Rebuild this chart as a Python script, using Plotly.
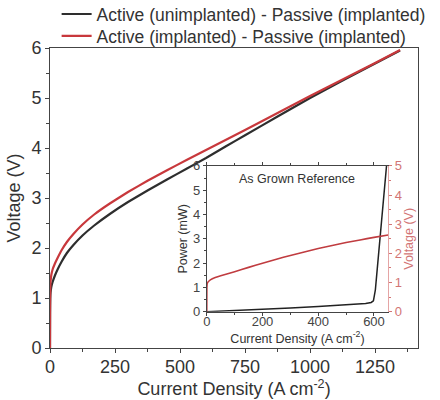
import plotly.graph_objects as go

# Main chart data: current density (A cm^-2) vs voltage (V)
j_unimpl = [0, 0.3, 1, 2, 5, 10, 19, 30, 45, 65, 90, 125, 170, 230, 300, 375, 450, 525, 600, 675, 750, 875, 1000, 1125, 1250, 1346]
v_unimpl = [0, 0.7, 0.98, 1.1, 1.22, 1.32, 1.45, 1.58, 1.73, 1.9, 2.06, 2.25, 2.45, 2.68, 2.92, 3.15, 3.37, 3.585, 3.8, 4.03, 4.255, 4.63, 5.0, 5.35, 5.69, 5.95]
j_impl = [0, 0.3, 1, 2, 5, 10, 19, 30, 45, 65, 90, 125, 170, 230, 300, 375, 450, 525, 600, 675, 750, 875, 1000, 1125, 1250, 1346]
v_impl = [0, 0.9, 1.2, 1.32, 1.46, 1.57, 1.69, 1.81, 1.96, 2.12, 2.28, 2.47, 2.67, 2.89, 3.12, 3.345, 3.555, 3.76, 3.96, 4.16, 4.36, 4.7, 5.04, 5.37, 5.7, 5.96]

# Inset data (As Grown Reference)
j_power = [0, 100, 200, 300, 400, 500, 570, 590, 598, 605, 620, 635, 645]
p_power = [0, 0.04, 0.1, 0.15, 0.21, 0.28, 0.34, 0.38, 0.45, 0.9, 2.7, 4.6, 6.0]
j_volt = [0, 0.5, 2, 10, 20, 50, 100, 150, 200, 250, 300, 350, 400, 450, 500, 550, 600, 651]
v_volt = [0, 0.85, 0.98, 1.07, 1.13, 1.23, 1.37, 1.52, 1.66, 1.8, 1.93, 2.05, 2.17, 2.27, 2.37, 2.46, 2.55, 2.63]

names = ["Active (unimplanted) - Passive (implanted)", "Active (implanted) - Passive (implanted)"]

BLACK = "#2e2e2e"
RED = "#c8383c"
RED_AX = "#d27575"
AX = "#444444"
FONT = "Liberation Sans, Arial, sans-serif"

fig = go.Figure()
fig.add_trace(go.Scatter(x=j_unimpl, y=v_unimpl, mode="lines", name=names[0], legend="legend",
                         line=dict(color=BLACK, width=2.2, shape="spline", smoothing=0.3)))
fig.add_trace(go.Scatter(x=j_impl, y=v_impl, mode="lines", name=names[1], legend="legend2",
                         line=dict(color=RED, width=2.2, shape="spline", smoothing=0.3)))

fig.add_trace(go.Scatter(x=j_power, y=p_power, mode="lines", showlegend=False,
                         xaxis="x2", yaxis="y2",
                         line=dict(color="#222222", width=1.5)))
fig.add_trace(go.Scatter(x=j_volt, y=v_volt, mode="lines", showlegend=False,
                         xaxis="x2", yaxis="y3",
                         line=dict(color="#c03c40", width=1.6, shape="spline", smoothing=0.3)))

tick_common = dict(ticks="outside", ticklen=4, tickwidth=1, tickcolor=AX,
                   showline=True, linecolor=AX, linewidth=1, showgrid=False, zeroline=False)

leg_common = dict(xanchor="left", yanchor="top", orientation="v", xref="paper", yref="paper",
                  font=dict(size=17.5, color="#333333"), bgcolor="rgba(0,0,0,0)", itemwidth=30)

fig.update_layout(
    width=440, height=400,
    margin=dict(l=50, r=22, t=48, b=52, autoexpand=False),
    paper_bgcolor="white", plot_bgcolor="white",
    font=dict(family=FONT, color="#333333"),
    showlegend=True,
    legend=dict(x=0.018, y=1.173, **leg_common),
    legend2=dict(x=0.018, y=1.1, **leg_common),
    xaxis=dict(range=[0, 1415], tickvals=[0, 250, 500, 750, 1000, 1250],
               minor=dict(dtick=125, ticks="outside", ticklen=3, tickcolor=AX),
               mirror=True, tickfont=dict(size=18, color="#333333"), ticklabelstandoff=-2,
               title=dict(text="Current Density (A cm<sup>-2</sup>)", font=dict(size=18), standoff=2),
               **tick_common),
    yaxis=dict(range=[0, 6], dtick=1,
               minor=dict(dtick=0.5, ticks="outside", ticklen=3, tickcolor=AX),
               mirror=True, tickfont=dict(size=18, color="#333333"),
               title=dict(text="Voltage (V)", font=dict(size=18), standoff=6),
               **tick_common),
    xaxis2=dict(domain=[0.426, 0.919], anchor="y2", range=[0, 651],
                tickvals=[0, 200, 400, 600],
                minor=dict(dtick=100, ticks="outside", ticklen=2, tickcolor=AX),
                mirror="ticks", tickfont=dict(size=13, color="#444444"), ticklabelstandoff=-5,
                title=dict(text="Current Density (A cm<sup>-2</sup>)", font=dict(size=12.5), standoff=0),
                ticks="outside", ticklen=3, tickcolor=AX, showline=True, linecolor=AX,
                linewidth=1, showgrid=False, zeroline=False),
    yaxis2=dict(domain=[0.121, 0.607], anchor="x2", range=[0, 6], dtick=1,
                minor=dict(dtick=0.5, ticks="outside", ticklen=2, tickcolor=AX),
                tickfont=dict(size=13, color="#444444"),
                title=dict(text="Power (mW)", font=dict(size=12.5), standoff=2),
                ticks="outside", ticklen=3, tickcolor=AX, showline=True, linecolor=AX,
                linewidth=1, showgrid=False, zeroline=False),
    yaxis3=dict(overlaying="y2", side="right", anchor="x2", range=[0, 5], dtick=1,
                minor=dict(dtick=0.5, ticks="outside", ticklen=2, tickcolor=RED_AX),
                tickfont=dict(size=13, color=RED_AX),
                title=dict(text="Voltage (V)", font=dict(size=12.5, color=RED_AX), standoff=2),
                ticks="outside", ticklen=3, tickcolor=RED_AX, showline=True, linecolor="#e5a5a5",
                linewidth=1, showgrid=False, zeroline=False),
    annotations=[dict(text="As Grown Reference", xref="x2 domain", yref="y2 domain",
                      x=0.5, y=0.97, xanchor="center", yanchor="top", showarrow=False,
                      font=dict(size=12.5, color="#333333"))],
)

fig.write_html("out.html", config={"displayModeBar": False},
               post_script="document.body.style.margin='0px';")
